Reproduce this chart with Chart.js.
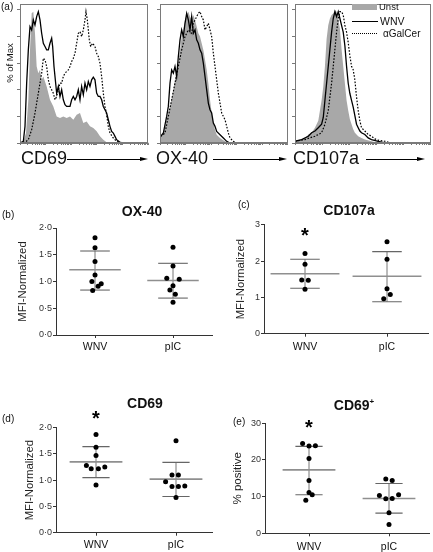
<!DOCTYPE html>
<html><head><meta charset="utf-8">
<script src="https://cdn.jsdelivr.net/npm/chart.js@4.4.0/dist/chart.umd.min.js"></script>
<style>
html,body{margin:0;padding:0;background:#fff;}
#fig{position:relative;width:433px;height:552px;overflow:hidden;font-family:"Liberation Sans",Arial,sans-serif;color:#111;background:#fff;}
canvas{position:absolute;}
.t{position:absolute;white-space:nowrap;line-height:1;transform:translateY(-50%);}
.b{font-weight:bold;}
.ln{position:absolute;height:0;border-top:1px solid #000;}
.hd{position:absolute;width:0;height:0;border-top:2.5px solid transparent;border-bottom:2.5px solid transparent;border-left:8px solid #000;}
</style></head><body><div id="fig">
<canvas id="h1" style="left:0;top:0" width="150" height="150"></canvas>
<canvas id="h2" style="left:150px;top:0" width="140" height="150"></canvas>
<canvas id="h3" style="left:290px;top:0" width="143" height="150"></canvas>
<canvas id="pb" style="left:0;top:195px" width="216" height="165"></canvas>
<canvas id="pc" style="left:216px;top:195px" width="217" height="165"></canvas>
<canvas id="pd" style="left:0;top:380px" width="216" height="172"></canvas>
<canvas id="pe" style="left:216px;top:380px" width="217" height="172"></canvas>

<div class="t" style="left:1px;top:7px;font-size:10px">(a)</div>
<div class="t" style="left:10px;top:63px;font-size:9.5px;transform:translate(-50%,-50%) rotate(-90deg)">% of Max</div>
<div class="t" style="left:21px;top:158px;font-size:18px">CD69</div>
<div class="ln" style="left:67px;top:158.5px;width:74px"></div><div class="hd" style="left:140px;top:156.5px"></div>
<div class="t" style="left:156px;top:158px;font-size:18px">OX-40</div>
<div class="ln" style="left:213px;top:158.5px;width:67px"></div><div class="hd" style="left:279px;top:156.5px"></div>
<div class="t" style="left:293px;top:158px;font-size:18px">CD107a</div>
<div class="ln" style="left:366px;top:158.5px;width:52px"></div><div class="hd" style="left:417px;top:156.5px"></div>

<div style="position:absolute;left:352px;top:3.5px;width:25px;height:6px;background:#a8a8a8"></div>
<div class="t" style="left:379px;top:7px;font-size:9.5px">Unst</div>
<div style="position:absolute;left:352px;top:20.5px;width:26px;height:0;border-top:1.5px solid #000"></div>
<div class="t" style="left:380px;top:21px;font-size:10.5px">WNV</div>
<div style="position:absolute;left:352px;top:33px;width:25px;height:0;border-top:1.2px dotted #000"></div>
<div class="t" style="left:383px;top:34px;font-size:10px">αGalCer</div>

<div class="t" style="left:2px;top:215px;font-size:10px">(b)</div>
<div class="t b" style="left:142px;top:211px;font-size:14px;transform:translate(-50%,-50%)">OX-40</div>
<div class="t" style="left:238px;top:205px;font-size:10px">(c)</div>
<div class="t b" style="left:349px;top:210px;font-size:14px;transform:translate(-50%,-50%)">CD107a</div>
<div class="t" style="left:2px;top:419px;font-size:10px">(d)</div>
<div class="t b" style="left:145px;top:403px;font-size:14px;transform:translate(-50%,-50%)">CD69</div>
<div class="t" style="left:233px;top:422px;font-size:10px">(e)</div>
<div class="t b" style="left:354px;top:405px;font-size:14px;transform:translate(-50%,-50%)">CD69<sup style="font-size:8px">+</sup></div>
</div>
<script>
// ---------- Panel (a): histogram curves, [channel, % of max] ----------
const cd69Unst = [[0,0],[10,1],[18,7.5],[25,32.5],[30,70],[35,97.5],[40,98.75],[45,82.5],[50,57.5],[55,52.5],[60,55],[65,47.5],[70,50],[80,42.5],[90,32.5],[100,27.5],[110,20],[120,18.75],[130,20],[140,18.75],[150,20],[160,17.5],[170,21.25],[180,22.5],[190,15],[200,16.25],[210,12.5],[220,11.25],[230,8.75],[240,5],[250,2.5],[260,0.5],[270,0]];
const cd69WNV = [[0,0],[10,1.25],[15,12.5],[20,45],[25,70],[30,87.5],[35,85],[40,92.5],[45,88.75],[50,95],[55,98.75],[60,92.5],[65,82.5],[70,75],[75,72.5],[80,70],[85,70],[90,75],[95,78.75],[98,72.5],[102,57.5],[105,50],[110,37.5],[115,42.5],[120,35],[125,40],[130,32.5],[135,28.75],[140,27.5],[150,27.5],[155,32.5],[160,35],[165,32.5],[170,35],[175,40],[180,32.5],[185,42.5],[190,36.25],[195,45],[200,40],[205,46.25],[210,42.5],[215,47.5],[220,49.5],[225,47.5],[230,37.5],[235,35],[240,35],[245,32.5],[250,27.5],[255,25],[260,22.5],[265,17.5],[270,12.5],[275,8.75],[280,7.5],[285,5],[290,2.5],[300,0.5],[310,0.3],[385,0.3]];
const cd69Agal = [[0,0],[15,0.5],[25,2.5],[35,10],[45,22.5],[55,37.5],[65,52.5],[70,63.75],[75,62.5],[80,57.5],[85,47.5],[90,42.5],[95,40],[100,37.5],[105,32.5],[110,35],[115,40],[120,45],[125,45],[130,50],[135,52.5],[140,53.75],[145,55],[150,57.5],[155,61.25],[160,63.75],[165,67.5],[170,75],[175,82.5],[180,83.75],[185,80],[190,85],[195,92.5],[198,98.75],[202,92.5],[205,85],[208,77.5],[212,72.5],[218,75],[225,72.5],[230,67.5],[235,65],[240,60],[245,50],[250,37.5],[255,27.5],[260,21.25],[265,12.5],[270,7.5],[280,3.75],[290,1.25],[300,0.5],[310,0]];

const ox40Unst = [[2,5],[10,7.5],[20,17.5],[30,27.5],[40,40],[45,47.5],[50,55],[55,60],[60,70],[65,80],[70,85],[75,92.5],[80,96.25],[85,98.75],[90,95],[95,92.5],[100,96.25],[105,92.5],[110,87.5],[115,82.5],[120,80],[125,75],[130,70],[135,62.5],[140,55],[145,45],[150,32.5],[155,22.5],[160,15],[165,10],[170,6.25],[180,3.75],[190,2],[200,0.5],[210,0]];
const ox40WNV = [[2,5],[10,7.5],[20,20],[25,27.5],[30,45],[35,55],[40,52.5],[45,57.5],[50,50],[55,65],[60,77.5],[65,85],[70,80],[75,90],[80,97.5],[85,92.5],[90,85],[95,95],[100,82.5],[105,85],[110,77.5],[115,75],[120,70],[125,67.5],[130,60],[135,50],[140,40],[145,30],[150,25],[155,22.5],[160,15],[165,12.5],[170,8.75],[180,6.25],[190,3.75],[200,1.25],[210,0]];
const ox40Agal = [[2,5],[15,7.5],[25,20],[35,32.5],[45,45],[55,57.5],[65,70],[75,80],[85,85],[95,82.5],[100,90],[105,92.5],[110,95],[115,97.5],[120,98.75],[125,95],[130,92.5],[135,85],[140,87.5],[145,90],[150,85],[155,80],[160,67.5],[165,57.5],[170,47.5],[175,37.5],[180,30],[185,22.5],[190,20],[195,17.5],[200,12.5],[205,7.5],[210,3.75],[220,1.25],[230,0]];

const cd107Unst = [[0,1.3],[20,2.6],[30,3.8],[40,6.4],[50,7.7],[60,11.5],[70,16.7],[75,24.4],[80,32.1],[85,42.3],[90,57.7],[95,78.2],[100,88.5],[105,93.6],[110,96.2],[115,97.4],[120,100],[125,98.7],[130,93.6],[135,85.9],[140,70.5],[145,57.7],[150,44.9],[155,32.1],[160,24.4],[165,17.9],[170,14.1],[175,10.3],[180,7.7],[185,6.4],[190,5.1],[200,3.8],[210,2.6],[230,1.3],[250,0]];
const cd107WNV = [[0,1.3],[20,2.6],[40,5.1],[50,7.7],[60,9],[70,11.5],[80,14.1],[85,19.2],[90,32.1],[95,44.9],[100,57.7],[105,70.5],[110,83.3],[115,93.6],[120,98.7],[125,94.9],[130,98.7],[135,93.6],[140,88.5],[145,83.3],[150,73.1],[155,57.7],[160,44.9],[165,37.2],[170,32.1],[175,26.9],[180,20.5],[185,14.1],[190,11.5],[195,9],[200,7.7],[210,6.4],[220,3.8],[230,2.6],[250,1.3],[270,0]];
const cd107Agal = [[0,1.3],[30,2.6],[60,5.1],[80,7.7],[90,14.1],[100,24.4],[110,44.9],[115,57.7],[120,70.5],[125,83.3],[130,93.6],[135,98.7],[140,98.7],[145,96.2],[150,88.5],[155,83.3],[160,75.6],[165,65.4],[170,57.7],[175,55.1],[180,47.4],[185,34.6],[190,24.4],[195,16.7],[200,11.5],[210,9],[220,6.4],[230,5.1],[240,3.1],[250,2.1],[270,1.3],[290,0]];

// ---------- Panels (b)-(e): individual values, means and SD ----------
const groups = ['WNV','pIC'];

const ox40WNVVals = [1.82,1.63,1.375,1.12,1.0,0.91,0.96,0.83];
const ox40WNVJit  = [0,0,0,0,-0.04,0.04,0.08,-0.03];
const ox40pICVals = [1.64,1.29,1.06,1.04,0.92,0.84,0.76,0.61];
const ox40pICJit  = [0,0,-0.08,0.08,0,-0.04,0.03,0];
const ox40Mean = [1.22,1.02], ox40Lo = [0.84,0.69], ox40Hi = [1.57,1.34];
const ox40Ticks = ['0·0','0·5','1·0','1·5','2·0'];

const cd107WNVVals = [2.21,1.91,1.48,1.47,1.22];
const cd107WNVJit  = [0,0,-0.04,0.04,0];
const cd107pICVals = [2.53,2.05,1.24,1.08,0.96];
const cd107pICJit  = [0,0,0,0.04,-0.04];
const cd107Mean = [1.65,1.58], cd107Lo = [1.25,0.88], cd107Hi = [2.05,2.26];
const cd107Ticks = ['0','1','2','3'];

const cd69WNVVals = [1.87,1.63,1.47,1.28,1.22,1.22,1.25,0.91];
const cd69WNVJit  = [0,0,0,-0.12,-0.06,0.03,0.11,0];
const cd69pICVals = [1.75,1.10,1.10,0.97,0.88,0.88,0.89,0.67];
const cd69pICJit  = [0,-0.05,0.03,-0.13,-0.05,0.03,0.11,0];
const cd69Mean = [1.35,1.02], cd69Lo = [1.05,0.69], cd69Hi = [1.64,1.34];
const cd69Ticks = ['0·0','0·5','1·0','1·5','2·0'];

const posWNVVals = [24.5,23.8,23.9,20.4,14.4,11.1,10.5,9.0];
const posWNVJit  = [-0.08,0,0.08,0,0,0,0.04,-0.04];
const pospICVals = [14.8,14.4,10.3,9.4,9.5,10.5,5.6,2.4];
const pospICJit  = [-0.04,0.04,-0.12,-0.04,0.04,0.12,0,0];
const posMean = [17.3,9.5], posLo = [10.5,5.5], posHi = [23.7,13.6];
const posTicks = ['0','10','20','30'];

// ---------- rendering ----------
const FAM = '"Liberation Sans", Arial, sans-serif';
Chart.defaults.font.family = FAM;

const framePlugin = {id:'frame', afterDatasetsDraw(chart){
  const a = chart.chartArea, c = chart.ctx;
  c.save(); c.strokeStyle = '#7a7a7a'; c.lineWidth = 1;
  c.strokeRect(Math.round(a.left)+0.5, Math.round(a.top)+0.5, Math.round(a.right-a.left)-1, Math.round(a.bottom-a.top)-1);
  c.restore();
}};

function pts(arr){ return arr.map(p => ({x:p[0], y:p[1]})); }

function histo(id, xmax, unst, wnv, agal, leftW, padRight){
  new Chart(document.getElementById(id), {
    type:'line',
    data:{datasets:[
      {data:pts(wnv), borderColor:'#000', borderWidth:1.3, pointRadius:0, fill:false, tension:0, order:1},
      {data:pts(agal), borderColor:'#000', borderWidth:1.2, borderDash:[1.6,1.6], pointRadius:0, fill:false, tension:0, order:2},
      {data:pts(unst), borderColor:'rgba(0,0,0,0)', backgroundColor:'#a8a8a8', borderWidth:0, pointRadius:0, fill:'origin', tension:0, order:3}
    ]},
    options:{responsive:false, animation:false, events:[],
      layout:{padding:{top:4, right:padRight, left:0, bottom:0}},
      plugins:{legend:{display:false}, tooltip:{enabled:false}},
      scales:{
        x:{type:'linear', min:0, max:xmax, border:{color:'#7a7a7a'},
           grid:{drawOnChartArea:false, tickLength:2, color:'#555', lineWidth:0.8},
           ticks:{display:false},
           afterBuildTicks: ax => { const dec = xmax/5, t = [];
             for (let d=0; d<5; d++) for (let m=1; m<10; m++) t.push({value: (d + Math.log10(m))*dec});
             t.push({value:xmax}); ax.ticks = t; },
           afterFit: s => { s.height = 7; }},
        y:{min:0, max:104.5, border:{color:'#7a7a7a'},
           grid:{drawOnChartArea:false, tickLength:3, color:'#555', lineWidth:0.8},
           ticks:{display:false, stepSize:20, includeBounds:false},
           afterFit: s => { s.width = leftW; }}
      }},
    plugins:[framePlugin]
  });
}
histo('h1', 385, cd69Unst, cd69WNV, cd69Agal, 20, 1.7);
histo('h2', 383, ox40Unst, ox40WNV, ox40Agal, 10, 2.3);
histo('h3', 408, cd107Unst, cd107WNV, cd107Agal, 5, 2.3);

const starPlugin = {id:'star', afterDatasetsDraw(chart, args, opts){
  if (!opts || opts.y == null) return;
  const c = chart.ctx, px = chart.scales.x.getPixelForValue(opts.x), py = chart.scales.y.getPixelForValue(opts.y);
  c.save(); c.font = 'bold 20px ' + FAM; c.textAlign = 'center'; c.textBaseline = 'alphabetic'; c.fillStyle = '#000';
  c.fillText('*', px, py + 0.57*20); c.restore();
}};

function groupSets(xc, vals, jit, mean, lo, hi, mh, ch){
  return [
    {type:'scatter', data: vals.map((v,i)=>({x:xc+jit[i], y:v})), pointRadius:2.5, pointBackgroundColor:'#000', pointBorderWidth:0, order:0},
    {type:'scatter', showLine:true, data:[{x:xc-mh,y:mean},{x:xc+mh,y:mean}], borderColor:'#8f8f8f', borderWidth:1.6, pointRadius:0, order:2},
    {type:'scatter', showLine:true, data:[{x:xc,y:lo},{x:xc,y:hi}], borderColor:'#777', borderWidth:1, pointRadius:0, order:3},
    {type:'scatter', showLine:true, data:[{x:xc-ch,y:hi},{x:xc+ch,y:hi}], borderColor:'#666', borderWidth:1.1, pointRadius:0, order:2},
    {type:'scatter', showLine:true, data:[{x:xc-ch,y:lo},{x:xc+ch,y:lo}], borderColor:'#666', borderWidth:1.1, pointRadius:0, order:2}
  ];
}

function dotPlot(id, c){
  const ds = [].concat(
    groupSets(1, c.v1, c.j1, c.mean[0], c.lo[0], c.hi[0], c.mh, c.ch),
    groupSets(2, c.v2, c.j2, c.mean[1], c.lo[1], c.hi[1], c.mh, c.ch));
  new Chart(document.getElementById(id), {
    type:'scatter',
    data:{datasets:ds},
    options:{responsive:false, animation:false, events:[],
      layout:{padding:{top:c.padTop, right:c.padRight, left:0, bottom:0}},
      plugins:{legend:{display:false}, tooltip:{enabled:false}, star:c.star},
      scales:{
        x:{type:'linear', min:c.xmin, max:c.xmax, border:{color:'#333'},
           grid:{drawOnChartArea:false, tickLength:3, color:'#333'},
           afterBuildTicks: ax => { ax.ticks = [{value:1},{value:2}]; },
           ticks:{callback:(v,i)=>groups[i], font:{size:10.5}, color:'#111', padding:c.xPad, maxRotation:0},
           afterFit: s => { s.height = c.xH; }},
        y:{min:0, max:c.ymax, border:{color:'#333'},
           grid:{drawOnChartArea:false, tickLength:3, color:'#333'},
           ticks:{stepSize:c.step, includeBounds:false, font:{size:9}, color:'#333', padding:1,
                  callback:(v,i)=>c.tickLabels[i]},
           title:{display:true, text:c.ytitle, font:{size:c.ytSize}, color:'#222', padding:{top:c.ytPad, bottom:0}},
           afterFit: s => { s.width = c.yW; }}
      }},
    plugins:[starPlugin]
  });
}

dotPlot('pb', {v1:ox40WNVVals, j1:ox40WNVJit, v2:ox40pICVals, j2:ox40pICJit, mean:ox40Mean, lo:ox40Lo, hi:ox40Hi,
  mh:0.33, ch:0.19, xmin:0.5, xmax:2.5, ymax:2, step:0.5, tickLabels:ox40Ticks, ytitle:'MFI-Normalized', ytSize:11.3, ytPad:15.8,
  yW:56, padTop:33, padRight:0, xH:25, xPad:2.5, star:{y:null}});
dotPlot('pc', {v1:cd107WNVVals, j1:cd107WNVJit, v2:cd107pICVals, j2:cd107pICJit, mean:cd107Mean, lo:cd107Lo, hi:cd107Hi,
  mh:0.42, ch:0.18, xmin:0.5, xmax:2.5, ymax:3, step:1, tickLabels:cd107Ticks, ytitle:'MFI-Normalized', ytSize:11.3, ytPad:18.3,
  yW:48, padTop:29.7, padRight:5, xH:26.3, xPad:3.8, star:{x:1, y:2.83}});
dotPlot('pd', {v1:cd69WNVVals, j1:cd69WNVJit, v2:cd69pICVals, j2:cd69pICJit, mean:cd69Mean, lo:cd69Lo, hi:cd69Hi,
  mh:0.33, ch:0.17, xmin:0.5, xmax:2.45, ymax:2, step:0.5, tickLabels:cd69Ticks, ytitle:'MFI-Normalized', ytSize:11.3, ytPad:23.3,
  yW:56, padTop:47.7, padRight:0, xH:19.3, xPad:3.1, star:{x:1, y:2.27}});
dotPlot('pe', {v1:posWNVVals, j1:posWNVJit, v2:pospICVals, j2:pospICJit, mean:posMean, lo:posLo, hi:posHi,
  mh:0.33, ch:0.17, xmin:0.45, xmax:2.5, ymax:30, step:10, tickLabels:posTicks, ytitle:'% positive', ytSize:11.5, ytPad:14.5,
  yW:49, padTop:43.3, padRight:0, xH:18.7, xPad:4.2, star:{x:1, y:30.2}});
</script>
</body></html>
